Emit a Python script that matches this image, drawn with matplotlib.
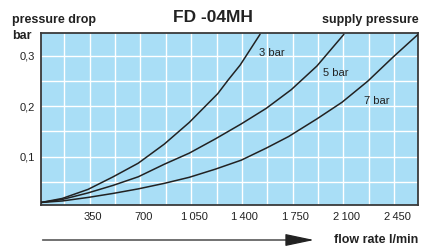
import numpy as np
import matplotlib
matplotlib.use('Agg')
import matplotlib.pyplot as plt
import matplotlib.transforms as mtransforms

plt.rcParams['font.family'] = ['Liberation Sans', 'DejaVu Sans']

# readings from the chart: flow rate (l/min) vs pressure drop (bar)
flow_3bar = [15, 161, 339, 512, 685, 865, 1037, 1233, 1307, 1388, 1525]
drop_3bar = [0.009, 0.017, 0.035, 0.060, 0.087, 0.125, 0.168, 0.225, 0.253, 0.282, 0.343]

flow_5bar = [15, 161, 339, 512, 685, 865, 1037, 1215, 1395, 1568, 1740, 1917, 2103]
drop_5bar = [0.009, 0.015, 0.028, 0.043, 0.060, 0.085, 0.107, 0.135, 0.165, 0.196, 0.233, 0.280, 0.343]

flow_7bar = [15, 161, 339, 512, 685, 865, 1037, 1215, 1395, 1568, 1722, 1917, 2090, 2268, 2443, 2615]
drop_7bar = [0.009, 0.012, 0.019, 0.027, 0.036, 0.047, 0.059, 0.075, 0.093, 0.117, 0.140, 0.175, 0.208, 0.250, 0.298, 0.343]

x_grid = np.arange(175, 2451, 175)
y_grid = [0.05, 0.1, 0.15, 0.2, 0.25, 0.3]
x_ticks = [350, 700, 1050, 1400, 1750, 2100, 2450]
x_ticklabels = ['350', '700', '1\u2009050', '1\u2009400', '1\u2009750', '2\u2009100', '2\u2009450']
y_ticks = [0.1, 0.2, 0.3]
y_ticklabels = ['0,1', '0,2', '0,3']

bg = '#a9def6'
curve_col = '#222222'

fig = plt.figure(figsize=(4.29, 2.48), dpi=100)
ax = fig.add_axes([0.0967, 0.1734, 0.8783, 0.6923])
ax.set_facecolor(bg)
ax.set_xlim(18, 2616)
ax.set_ylim(0.004, 0.345)

for xg in x_grid:
    ax.axvline(xg, color='white', lw=1.0, zorder=1)
for yg in y_grid:
    ax.axhline(yg, color='white', lw=1.0, zorder=1)

for fl, dr in [(flow_3bar, drop_3bar), (flow_5bar, drop_5bar), (flow_7bar, drop_7bar)]:
    ax.plot(fl, dr, color=curve_col, lw=1.1, zorder=3, solid_capstyle='round',
            solid_joinstyle='round')

ax.text(1605, 0.305, '3 bar', fontsize=8, color='#222222', ha='center', va='center')
ax.text(2050, 0.266, '5 bar', fontsize=8, color='#222222', ha='center', va='center')
ax.text(2329, 0.211, '7 bar', fontsize=8, color='#222222', ha='center', va='center')

ax.set_xticks(x_ticks)
ax.set_xticklabels(x_ticklabels)
ax.set_yticks(y_ticks)
ax.set_yticklabels(y_ticklabels)
ax.tick_params(length=0, labelsize=8, colors='#222222')
ax.tick_params(axis='x', pad=5)
ax.tick_params(axis='y', pad=5)
shift = mtransforms.ScaledTranslation(0.03, 0, fig.dpi_scale_trans)
for lab in ax.get_xticklabels():
    lab.set_transform(lab.get_transform() + shift)

for sp in ax.spines.values():
    sp.set_color('#3a3a3a')
    sp.set_linewidth(1.3)

fig.text(12 / 429, 1 - 20 / 248, 'pressure drop', fontsize=9, fontweight='bold',
         color='#222222', ha='left', va='center')
fig.text(12 / 429, 1 - 36 / 248, 'bar', fontsize=9, fontweight='bold',
         color='#222222', ha='left', va='center')
fig.text(213 / 429, 1 - 18 / 248, 'FD -04MH', fontsize=12.5, fontweight='bold',
         color='#222222', ha='center', va='center')
fig.text(418.5 / 429, 1 - 20 / 248, 'supply pressure', fontsize=9, fontweight='bold',
         color='#222222', ha='right', va='center')
fig.text(418.5 / 429, 1 - 240 / 248, 'flow rate l/min', fontsize=9, fontweight='bold',
         color='#222222', ha='right', va='center')

fig.patches.append(matplotlib.patches.FancyArrowPatch(
    (42.5 / 429, 1 - 240 / 248), (314 / 429, 1 - 240 / 248),
    transform=fig.transFigure, arrowstyle='-|>,head_length=18,head_width=3.8',
    color='#222222', lw=0.9, mutation_scale=1, shrinkA=0, shrinkB=0))

fig.savefig('out.png', dpi=100)
